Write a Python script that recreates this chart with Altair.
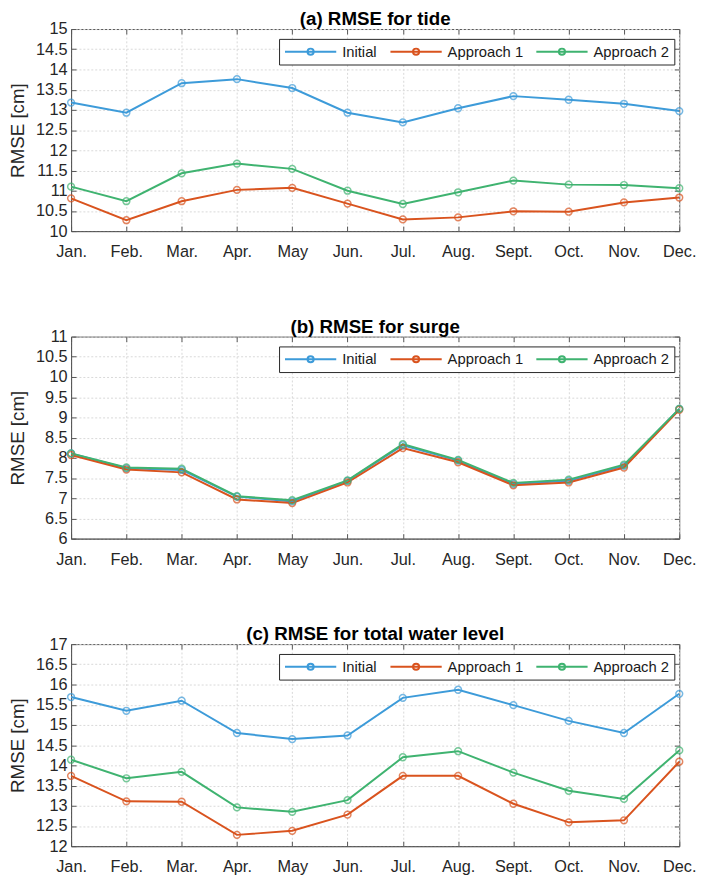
import altair as alt
import pandas as pd

months = ["Jan.", "Feb.", "Mar.", "Apr.", "May", "Jun.", "Jul.", "Aug.", "Sept.", "Oct.", "Nov.", "Dec."]
series = ["Initial", "Approach 1", "Approach 2"]
colors = ["#3d9bd9", "#d9531e", "#3fb370"]

tide_initial = [13.18, 12.93, 13.66, 13.76, 13.54, 12.93, 12.69, 13.04, 13.34, 13.25, 13.15, 12.97]
tide_app1 = [10.81, 10.27, 10.74, 11.02, 11.07, 10.68, 10.29, 10.34, 10.49, 10.48, 10.71, 10.83]
tide_app2 = [11.10, 10.74, 11.43, 11.67, 11.54, 11.00, 10.67, 10.96, 11.25, 11.15, 11.14, 11.06]

surge_initial = [8.11, 7.74, 7.70, 7.04, 6.92, 7.43, 8.31, 7.93, 7.35, 7.43, 7.80, 9.21]
surge_app1 = [8.07, 7.71, 7.64, 6.97, 6.88, 7.39, 8.24, 7.89, 7.32, 7.39, 7.76, 9.19]
surge_app2 = [8.11, 7.76, 7.73, 7.05, 6.95, 7.44, 8.34, 7.95, 7.38, 7.46, 7.83, 9.21]

twl_initial = [15.69, 15.35, 15.60, 14.80, 14.65, 14.74, 15.67, 15.87, 15.49, 15.10, 14.80, 15.77]
twl_app1 = [13.74, 13.11, 13.10, 12.28, 12.38, 12.78, 13.74, 13.74, 13.05, 12.59, 12.64, 14.09]
twl_app2 = [14.14, 13.68, 13.84, 12.96, 12.85, 13.14, 14.20, 14.35, 13.82, 13.37, 13.17, 14.37]

titles = ["(a) RMSE for tide", "(b) RMSE for surge", "(c) RMSE for total water level"]
y_ranges = [(10, 15), (6, 11), (12, 17)]

FONT = "Liberation Sans"
W, H = 617, 205
AXC = "#555555"
SYMBOL = "M-1,0L1,0M-0.12,0A0.12,0.12,0,1,0,0.12,0A0.12,0.12,0,1,0,-0.12,0"


def panel(initial, app1, app2, title, yr):
    df = pd.DataFrame({
        "month": months * 3,
        "series": [s for s in series for _ in months],
        "rmse": initial + app1 + app2,
    })
    ymin, ymax = yr
    ticks = [ymin + 0.5 * i for i in range(int((ymax - ymin) * 2) + 1)]
    xs = alt.Scale(type="point", domain=months, padding=0)
    ys = alt.Scale(domain=[ymin, ymax], nice=False, zero=False)
    cs = alt.Scale(domain=series, range=colors)
    base = alt.Chart(df)

    legend = alt.Legend(
        title=None, orient="none", legendX=211, legendY=10, direction="horizontal",
        symbolType=SYMBOL, symbolSize=2704, symbolStrokeWidth=2, symbolFillColor="white",
        labelFont=FONT, labelFontSize=15, labelColor="#1a1a1a", padding=5, clipHeight=16,
        strokeColor="#262626", fillColor="white", columnPadding=12, labelOffset=5,
        cornerRadius=0,
    )

    lines = base.mark_line(strokeWidth=2).encode(
        x=alt.X("month:N", sort=months, scale=xs,
                axis=alt.Axis(orient="bottom", title=None, labelAngle=0, ticks=False, grid=True,
                              domain=True, labelPadding=13)),
        y=alt.Y("rmse:Q", scale=ys,
                axis=alt.Axis(orient="left", title="RMSE [cm]", values=ticks, format="~g",
                              ticks=False, grid=True, domain=True, labelPadding=4, titlePadding=8)),
        color=alt.Color("series:N", sort=series, scale=cs, legend=legend),
    )
    pts = base.mark_point(size=48, strokeWidth=1.5, filled=False).encode(
        x=alt.X("month:N", sort=months, scale=xs,
                axis=alt.Axis(orient="top", offset=-H, labels=False, domain=False, grid=False,
                              ticks=True, tickSize=5, title=None)),
        y=alt.Y("rmse:Q", scale=ys,
                axis=alt.Axis(orient="right", offset=-W, values=ticks, labels=False, domain=False,
                              grid=False, ticks=True, tickSize=5, title=None)),
        color=alt.Color("series:N", sort=series, scale=cs, legend=None),
    )
    ghost = base.mark_point(opacity=0).encode(
        x=alt.X("month:N", sort=months, scale=xs,
                axis=alt.Axis(orient="bottom", offset=-H, labels=False, domain=False, grid=False,
                              ticks=True, tickSize=5, title=None)),
        y=alt.Y("rmse:Q", scale=ys,
                axis=alt.Axis(orient="left", offset=-W, values=ticks, labels=False, domain=False,
                              grid=False, ticks=True, tickSize=5, title=None)),
    )
    return alt.layer(
        lines, pts, ghost,
        title=alt.TitleParams(title, fontSize=19, fontWeight="bold", font=FONT, color="#000000",
                              anchor="middle", offset=-8),
    ).resolve_axis(x="independent", y="independent").properties(width=W, height=H)


pa = panel(tide_initial, tide_app1, tide_app2, titles[0], y_ranges[0])
pb = panel(surge_initial, surge_app1, surge_app2, titles[1], y_ranges[1])
pc = panel(twl_initial, twl_app1, twl_app2, titles[2], y_ranges[2])

chart = alt.vconcat(pa, pb, pc, spacing=57).resolve_scale(color="independent").properties(
    padding={"left": 0, "top": -5, "right": 0, "bottom": 0}, background="white"
).configure_view(stroke=AXC, strokeWidth=1).configure_axis(
    labelFont=FONT, labelFontSize=16.5, labelColor="#262626",
    titleFont=FONT, titleFontSize=19, titleFontWeight="normal", titleColor="#262626",
    domainColor=AXC, tickColor=AXC, gridColor="#d8d8d8", gridDash=[2, 2], gridWidth=1,
)

chart.save("out.html", embed_options={"renderer": "svg", "actions": False})
